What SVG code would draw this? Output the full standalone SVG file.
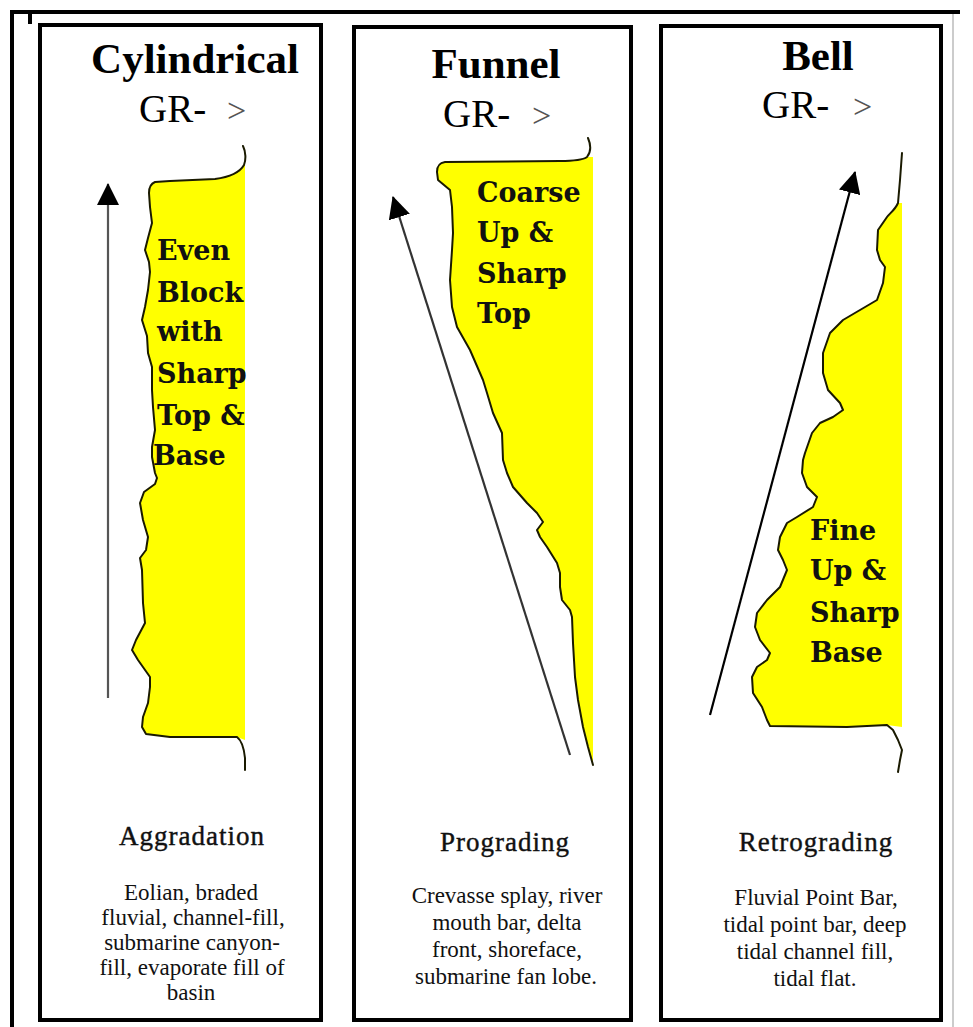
<svg xmlns="http://www.w3.org/2000/svg" width="973" height="1027" viewBox="0 0 973 1027">
<style>
.panel{fill:#fff;stroke:#000;stroke-width:4}
.frame{stroke:#000;stroke-width:4;fill:none}
.title{font-family:"Liberation Serif","Times New Roman",serif;font-weight:bold;font-size:43px;fill:#000;text-anchor:middle}
.gr{font-family:"Liberation Serif","Times New Roman",serif;font-size:39px;fill:#000}
.gt{fill:#555;font-size:34px}
.yel{fill:#ffff00;stroke:none}
.edge{fill:none;stroke:#1a1a00;stroke-width:2;stroke-linejoin:round;stroke-linecap:round}
.lab{font-family:"DejaVu Serif","Liberation Serif",serif;font-weight:bold;font-size:27px;fill:#111}
.proc{font-family:"Liberation Serif","Times New Roman",serif;font-size:27px;letter-spacing:1px;fill:#111;stroke:#111;stroke-width:0.4;text-anchor:middle}
.desc{font-family:"Liberation Serif","Times New Roman",serif;font-size:23px;fill:#111;text-anchor:middle}
.arr{fill:none;stroke-width:2.2}
</style>
<defs>
<marker id="head" markerUnits="userSpaceOnUse" viewBox="0 0 22 22" markerWidth="22" markerHeight="22" refX="21" refY="11" orient="auto">
<path d="M0,0 L22,11 L0,22 Z" fill="#000"/>
</marker>
</defs>
<rect width="973" height="1027" fill="#fff"/>
<g id="frame">
<line class="frame" x1="10" y1="12" x2="960" y2="12"/>
<line class="frame" x1="12" y1="10" x2="12" y2="1027"/>
<line class="frame" x1="30" y1="12" x2="30" y2="24"/>
<line x1="953" y1="14" x2="953" y2="1027" stroke="#bbb" stroke-width="1.5"/>
</g>

<g id="cylindrical">
<rect class="panel" x="40" y="25" width="281" height="995"/>
<text class="title" x="195" y="73">Cylindrical</text>
<text class="gr" x="139" y="122">GR- <tspan class="gt" x="227">&gt;</tspan></text>
<path class="yel" d="M244,165 C240,172 230,177 215,179 L170,181 L155,182 C150,184 149,188 149,193 L150,207 L152,223 L148,238 L145,250 L149,262 L150,272 L148,290 L145,307 L142,320 L147,336 L148,353 L152,367 L152,390 L153,407 L155,430 L152,447 L152,457 L155,473 L157,478 L155,484 L144,492 L140,503 L143,520 L148,537 L146,550 L140,558 L142,570 L143,603 L145,623 L136,640 L132,650 L138,660 L150,677 L150,687 L148,703 L143,717 L142,727 L146,734 L170,737 L237,737 L245,740 L245,165 Z"/>
<path class="edge" d="M243,146 C246,152 246,160 244,165 C240,172 230,177 215,179 L170,181 L155,182 C150,184 149,188 149,193 L150,207 L152,223 L148,238 L145,250 L149,262 L150,272 L148,290 L145,307 L142,320 L147,336 L148,353 L152,367 L152,390 L153,407 L155,430 L152,447 L152,457 L155,473 L157,478 L155,484 L144,492 L140,503 L143,520 L148,537 L146,550 L140,558 L142,570 L143,603 L145,623 L136,640 L132,650 L138,660 L150,677 L150,687 L148,703 L143,717 L142,727 L146,734 L170,737 L237,737 C241,740 244,748 245,758 L245,770"/>
<text class="lab" x="157" y="260">Even</text>
<text class="lab" x="157" y="302">Block</text>
<text class="lab" x="157" y="341">with</text>
<text class="lab" x="157" y="383">Sharp</text>
<text class="lab" x="157" y="425">Top &amp;</text>
<text class="lab" x="153" y="465">Base</text>
<text class="proc" x="192" y="845">Aggradation</text>
<text class="desc" x="191" y="900">Eolian, braded</text>
<text class="desc" x="193" y="925">fluvial, channel-fill,</text>
<text class="desc" x="192" y="950">submarine canyon-</text>
<text class="desc" x="192" y="975">fill, evaporate fill of</text>
<text class="desc" x="191" y="1000">basin</text>
</g>

<g id="funnel">
<rect class="panel" x="354" y="27" width="277" height="993"/>
<text class="title" x="496" y="78">Funnel</text>
<text class="gr" x="443" y="127">GR- <tspan class="gt" x="532">&gt;</tspan></text>
<path class="yel" d="M587,157 C583,160 575,161 560,161 L445,162 C439,163 437,166 437,172 L438,180 L450,190 L452,207 L453,233 L452,250 L450,280 L452,307 L457,327 L470,350 L483,380 L487,393 L493,413 L502,433 L503,460 L507,473 L513,487 L527,503 L537,513 L543,522 L537,530 L540,537 L547,547 L557,563 L560,573 L560,587 L562,600 L570,610 L572,617 L573,643 L575,677 L578,700 L583,727 L588,747 L593,765 L593,157 Z"/>
<path class="edge" d="M588,138 C591,145 591,152 587,157 C583,160 575,161 560,161 L445,162 C439,163 437,166 437,172 L438,180 L450,190 L452,207 L453,233 L452,250 L450,280 L452,307 L457,327 L470,350 L483,380 L487,393 L493,413 L502,433 L503,460 L507,473 L513,487 L527,503 L537,513 L543,522 L537,530 L540,537 L547,547 L557,563 L560,573 L560,587 L562,600 L570,610 L572,617 L573,643 L575,677 L578,700 L583,727 L588,747 L593,765"/>
<text class="lab" x="477" y="202">Coarse</text>
<text class="lab" x="477" y="242">Up &amp;</text>
<text class="lab" x="477" y="283">Sharp</text>
<text class="lab" x="477" y="323">Top</text>
<text class="proc" x="505" y="851">Prograding</text>
<text class="desc" x="507" y="903">Crevasse splay, river</text>
<text class="desc" x="507" y="930">mouth bar, delta</text>
<text class="desc" x="507" y="957">front, shoreface,</text>
<text class="desc" x="506" y="984">submarine fan lobe.</text>
</g>

<g id="bell">
<rect class="panel" x="661" y="26" width="280" height="994"/>
<text class="title" x="818" y="70">Bell</text>
<text class="gr" x="762" y="118">GR- <tspan class="gt" x="853">&gt;</tspan></text>
<path class="yel" d="M898,203 C895,210 890,213 887,217 L878,230 L877,250 L880,260 L885,267 L883,283 L877,300 L860,310 L843,320 L830,333 L823,353 L823,373 L828,390 L840,403 L843,410 L833,417 L820,423 L812,433 L805,453 L803,460 L802,473 L807,487 L817,497 L813,507 L797,517 L787,523 L780,537 L778,550 L783,560 L787,570 L780,587 L767,600 L757,613 L755,627 L760,640 L770,653 L767,660 L757,667 L752,677 L753,693 L762,707 L767,720 L770,726 L847,727 L887,725 L902,727 L902,203 Z"/>
<path class="edge" d="M902,153 L900,180 L898,203 C895,210 890,213 887,217 L878,230 L877,250 L880,260 L885,267 L883,283 L877,300 L860,310 L843,320 L830,333 L823,353 L823,373 L828,390 L840,403 L843,410 L833,417 L820,423 L812,433 L805,453 L803,460 L802,473 L807,487 L817,497 L813,507 L797,517 L787,523 L780,537 L778,550 L783,560 L787,570 L780,587 L767,600 L757,613 L755,627 L760,640 L770,653 L767,660 L757,667 L752,677 L753,693 L762,707 L767,720 L770,726 L847,727 L887,725 L893,730 L898,740 L902,750 L900,760 L898,772"/>
<text class="lab" x="810" y="540">Fine</text>
<text class="lab" x="810" y="580">Up &amp;</text>
<text class="lab" x="810" y="622">Sharp</text>
<text class="lab" x="810" y="662">Base</text>
<text class="proc" x="816" y="851">Retrograding</text>
<text class="desc" x="816" y="905">Fluvial Point Bar,</text>
<text class="desc" x="815" y="932">tidal point bar, deep</text>
<text class="desc" x="815" y="959">tidal channel fill,</text>
<text class="desc" x="815" y="986">tidal flat.</text>
</g>

<g id="connectors">
<line class="arr" x1="108" y1="698" x2="108" y2="184" stroke="#555" marker-end="url(#head)"/>
<line class="arr" x1="570" y1="755" x2="393" y2="197" stroke="#333" stroke-width="2.6" marker-end="url(#head)"/>
<line class="arr" x1="710" y1="715" x2="855" y2="172" stroke="#000" marker-end="url(#head)"/>
</g>
</svg>
